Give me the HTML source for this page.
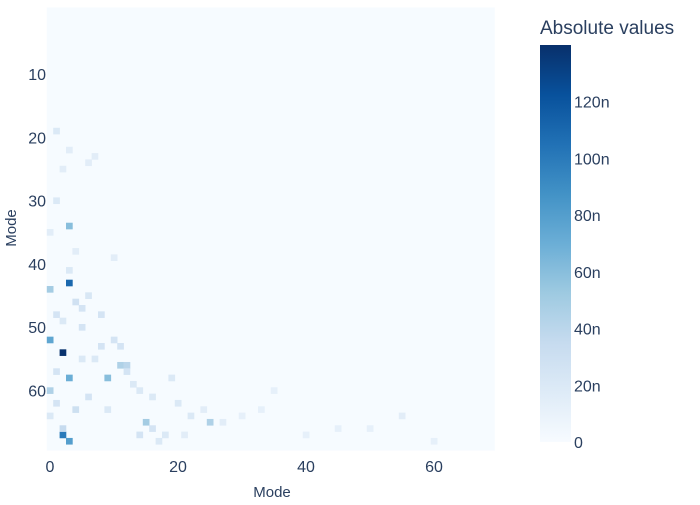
<!DOCTYPE html>
<html><head><meta charset="utf-8"><style>
body{margin:0;background:#fff;font-family:"Liberation Sans",sans-serif;}
svg text{fill:#2a3f5f;font-family:"Liberation Sans",sans-serif;}
</style></head><body>
<svg id="chart" width="700" height="500">
<defs><linearGradient id="cb" x1="0" y1="1" x2="0" y2="0">
<stop offset="0" stop-color="rgb(247,251,255)"/><stop offset="0.125" stop-color="rgb(222,235,247)"/>
<stop offset="0.25" stop-color="rgb(198,219,239)"/><stop offset="0.375" stop-color="rgb(158,202,225)"/>
<stop offset="0.5" stop-color="rgb(107,174,214)"/><stop offset="0.625" stop-color="rgb(66,146,198)"/>
<stop offset="0.75" stop-color="rgb(33,113,181)"/><stop offset="0.875" stop-color="rgb(8,81,156)"/>
<stop offset="1" stop-color="rgb(8,48,107)"/></linearGradient></defs>
<g id="cells"></g>
<g id="axes"></g>
<rect x="540" y="45" width="31" height="397" fill="url(#cb)"/>
<text x="540" y="34" font-size="19">Absolute values</text>
<text x="272" y="497" font-size="15" text-anchor="middle">Mode</text>
<text x="16" y="228" font-size="15" text-anchor="middle" transform="rotate(-90 16 228)">Mode</text>
</svg>
<script>
const nModes = 70;
const xTicks = [0, 20, 40, 60];
const yTicks = [10, 20, 30, 40, 50, 60];
const cbTicks = [0, 20, 40, 60, 80, 100, 120];
const cbTickLabels = ["0", "20n", "40n", "60n", "80n", "100n", "120n"];
const zMax = 140;
// notable cells: column (x), row (y), value (n)
const cellX = [2,3,2,3,0,3,3,0,9,0,11,15,25,12,1,4,5,6,8,10,14,16,18,20,1,2,4,0,3,5,7,1,2,6,13,17,22,8,4,1,2,10,12,3,6,19,27,30,35,45,55,1,0,5,9,11,7,16,21,24,14,33,40,50,60];
const cellY = [54,43,67,68,52,34,58,44,58,60,56,65,65,56,19,46,47,45,48,52,60,66,67,62,30,25,63,35,41,50,55,57,66,61,59,68,64,53,38,48,49,39,57,22,24,58,65,64,60,66,64,62,64,55,63,53,23,61,67,63,67,63,67,66,68];
const cellV = [139,110,100,80,75,60,70,50,60,45,45,50,45,40,20,28,25,22,25,25,20,25,20,20,20,15,30,15,20,25,20,25,35,25,20,20,20,25,15,25,20,15,25,15,15,20,15,12,12,12,15,25,20,20,20,25,15,20,15,15,25,12,12,12,12];

const x0 = 46.8, cw = 6.4, y0 = 7.5, ch = 6.33;
const xs = v => x0 + (v + 0.5) * cw;
const ys = v => y0 + (v + 0.5) * ch;
const stops = [[247,251,255],[222,235,247],[198,219,239],[158,202,225],[107,174,214],[66,146,198],[33,113,181],[8,81,156],[8,48,107]];
function color(v){
  let t = Math.max(0, Math.min(1, v / zMax)) * 8;
  const i = Math.min(7, Math.floor(t)), f = t - i;
  const c = stops[i].map((a, k) => Math.round(a + (stops[i+1][k] - a) * f));
  return `rgb(${c})`;
}
const NS = "http://www.w3.org/2000/svg";
const cells = document.getElementById("cells");
const bg = document.createElementNS(NS, "rect");
bg.setAttribute("x", x0); bg.setAttribute("y", y0);
bg.setAttribute("width", nModes * cw); bg.setAttribute("height", nModes * ch);
bg.setAttribute("fill", color(0.5));


cells.appendChild(bg);
for (let i = 0; i < cellX.length; i++) {
  const r = document.createElementNS(NS, "rect");
  r.setAttribute("x", xs(cellX[i]) - cw/2); r.setAttribute("y", ys(cellY[i]) - ch/2);
  r.setAttribute("width", cw + 0.3); r.setAttribute("height", ch + 0.3);
  r.setAttribute("fill", color(cellV[i]));
  
  
  cells.appendChild(r);
}
const axes = document.getElementById("axes");
function txt(x, y, s, anchor, name){
  const t = document.createElementNS(NS, "text");
  t.setAttribute("x", x); t.setAttribute("y", y); t.setAttribute("font-size", "16");
  t.setAttribute("text-anchor", anchor); t.textContent = s;
  
  
  axes.appendChild(t);
}
xTicks.forEach(v => txt(x0 + v * cw + cw/2, 472, String(v), "middle", "x-tick-label"));
yTicks.forEach(v => txt(46, ys(v) + 6, String(v), "end", "y-tick-label"));
const cbTop = 45, cbBot = 442;
cbTicks.forEach((v, i) => txt(574, cbBot - (cbBot - cbTop) * v / zMax + 6, cbTickLabels[i], "start", "colorbar-tick-label"));
</script>
</body></html>
